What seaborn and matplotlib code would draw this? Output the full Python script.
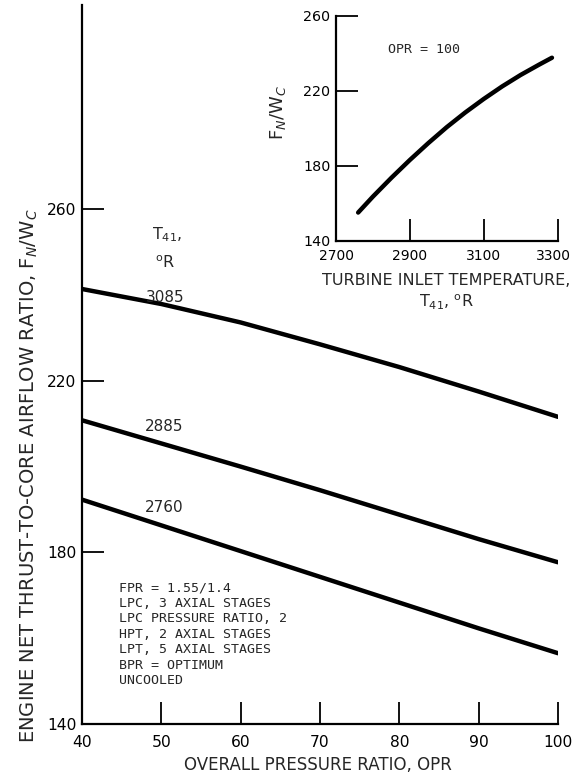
import matplotlib
matplotlib.use("Agg")
import matplotlib.pyplot as plt
import matplotlib.transforms as mtransforms
import seaborn as sns
import pandas as pd

# ---- data ----
opr = [40, 50, 60, 70, 80, 90, 100]
t41_labels = ["3085", "2885", "2760"]
fn_3085 = [241.4, 237.9, 233.6, 228.5, 223.2, 217.5, 211.6]
fn_2885 = [210.8, 205.4, 200.0, 194.5, 188.8, 183.1, 177.7]
fn_2760 = [192.3, 186.3, 180.3, 174.3, 168.3, 162.3, 156.5]

inset_t41 = [2760, 2800, 2850, 2900, 2950, 3000, 3050, 3100, 3150, 3200, 3250, 3285]
inset_fn = [155.0, 163.5, 173.5, 183.0, 192.0, 200.5, 208.3, 215.5, 222.2, 228.3, 233.8, 237.5]

x_ticks = [40, 50, 60, 70, 80, 90, 100]
y_ticks = [140, 180, 220, 260]
ix_ticks = [2700, 2900, 3100, 3300]
iy_ticks = [140, 180, 220, 260]

notes = ["FPR = 1.55/1.4", "LPC, 3 AXIAL STAGES", "LPC PRESSURE RATIO, 2",
         "HPT, 2 AXIAL STAGES", "LPT, 5 AXIAL STAGES", "BPR = OPTIMUM", "UNCOOLED"]

df = pd.DataFrame({
    "OPR": opr * 3,
    "FN": fn_3085 + fn_2885 + fn_2760,
    "T41": [t41_labels[0]] * 7 + [t41_labels[1]] * 7 + [t41_labels[2]] * 7,
})
df_in = pd.DataFrame({"T": inset_t41, "F": inset_fn})

sns.set_style("ticks")
plt.rcParams["font.family"] = ["DejaVu Sans"]
plt.rcParams["mathtext.fontset"] = "dejavusans"

LAB = ["DejaVu Sans"]
MONO = ["DejaVu Sans Mono"]

fig = plt.figure(figsize=(5.74, 7.78), dpi=100)
ax = fig.add_axes([82 / 574, 54 / 778, 476 / 574, 719 / 778])

sns.lineplot(data=df, x="OPR", y="FN", hue="T41", palette=["black"] * 3,
             linewidth=3.2, legend=False, ax=ax)
ax.set_xlim(40, 100)
ax.set_ylim(140, 307.6)
ax.set_xticks(x_ticks)
ax.set_yticks(y_ticks)
ax.tick_params(direction="in", length=16, width=1.3, labelsize=11.2, colors="black")
ax.tick_params(axis="x", pad=8)
ax.tick_params(axis="y", pad=4)
for s in ["top", "right"]:
    ax.spines[s].set_visible(False)
for s in ["left", "bottom"]:
    ax.spines[s].set_linewidth(1.6)
    ax.spines[s].set_color("black")
ax.set_xlabel("OVERALL PRESSURE RATIO, OPR", fontsize=12, family=LAB)
ax.xaxis.set_label_coords(0.495, -0.057)
ax.xaxis.label.set_va("center")
ax.set_ylabel("ENGINE NET THRUST-TO-CORE AIRFLOW RATIO, F$_N$/W$_C$",
              fontsize=14, family=LAB)
ax.yaxis.set_label_coords(-0.11, 0.345)
ax.yaxis.label.set_va("center")

# curve labels
ax.text(50.5, 238.3, "3085", fontsize=11, ha="center", va="baseline")
ax.text(50.3, 208.3, "2885", fontsize=11, ha="center", va="baseline")
ax.text(50.3, 189.4, "2760", fontsize=11, ha="center", va="baseline")
ax.text(48.8, 256.2, "T$_{41}$,", fontsize=11.5, ha="left", va="top")
ax.text(49.2, 249.4, "$^{\\mathrm{o}}$R", fontsize=11.5, ha="left", va="top")

ax.text(44.7, 173.2, "\n".join(notes), family=MONO, fontsize=9.5,
        ha="left", va="top", linespacing=1.24)

# inset
ins = fig.add_axes([336 / 574, (778 - 240.7) / 778, 221.5 / 574, 225.2 / 778])
sns.lineplot(data=df_in, x="T", y="F", color="black", linewidth=3.2, ax=ins)
ins.set_xlim(2700, 3300)
ins.set_ylim(140, 260)
ins.set_xticks(ix_ticks)
ins.set_yticks(iy_ticks)
ins.tick_params(direction="in", length=16, width=1.3, labelsize=10.3, colors="black")
ins.tick_params(axis="x", pad=6, labelsize=10)
ins.tick_params(axis="y", pad=4)
for s in ["top", "right"]:
    ins.spines[s].set_visible(False)
for s in ["left", "bottom"]:
    ins.spines[s].set_linewidth(1.6)
    ins.spines[s].set_color("black")
ins.set_facecolor("none")
ins.set_xlabel("TURBINE INLET TEMPERATURE,\nT$_{41}$, $^{\\mathrm{o}}$R", fontsize=11.5,
               family=LAB, linespacing=1.3)
ins.xaxis.set_label_coords(0.497, -0.145)
ins.xaxis.label.set_va("top")
ins.xaxis.label.set_ha("center")
ins.set_ylabel("F$_N$/W$_C$", fontsize=13, family=LAB)
ins.yaxis.set_label_coords(-0.26, 0.57)
ins.yaxis.label.set_va("center")
ins.text(2841, 240, "OPR = 100", family=MONO, fontsize=9.5, ha="left", va="baseline")

# nudge the last inset x tick label so it stays inside the figure
last = ins.get_xticklabels()[-1]
last.set_transform(last.get_transform() +
                   mtransforms.ScaledTranslation(-4 / 100, 0, fig.dpi_scale_trans))

fig.savefig("out.png", dpi=100, facecolor="white")
